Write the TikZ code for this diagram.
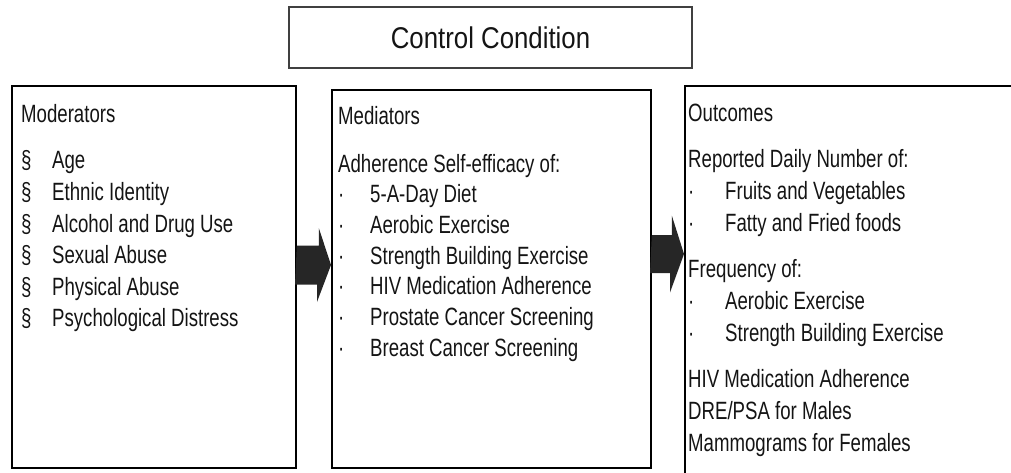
\documentclass[tikz,border=0pt]{standalone}
\usepackage{fontspec}
\setmainfont{Liberation Sans}[FakeStretch=0.745]
\newfontfamily\titlefont{Liberation Sans}[FakeStretch=0.86]
\usetikzlibrary{positioning, calc}
\definecolor{textblack}{RGB}{20,20,20}
\definecolor{arrowgray}{RGB}{38,38,38}
\newcommand{\secitem}[1]{\makebox[31pt][l]{\S}#1}
\newcommand{\dotitem}[2][32pt]{\makebox[#1][l]{\textperiodcentered}#2}

\begin{document}
\begin{tikzpicture}[
    x=1pt, y=-1pt,
    panel/.style={rectangle, draw=black, line width=1.8pt, inner sep=0pt,
                  anchor=north west},
    titlebox/.style={rectangle, draw=black!75, line width=1.2pt, inner sep=0pt,
                     text=textblack, font=\titlefont\fontsize{30pt}{36pt}\selectfont},
    listtext/.style={inner sep=0pt, anchor=north west, align=left, text=textblack,
                     font=\fontsize{25pt}{32pt}\selectfont},
    fatarrow/.style={fill=arrowgray}
]
    \clip (0,0) rectangle (1011,473);

    % Title box
    \node[titlebox, minimum width=403pt, minimum height=61pt] (ctrl) at (490.5,37.5) {Control Condition};

    % Panels
    \node[panel, minimum width=284pt, minimum height=382pt] (mod) at (11,85) {};
    \node[panel, minimum width=319pt, minimum height=378pt] (med) at (331,89) {};
    \node[panel, minimum width=340pt, minimum height=400pt] (out) at (684,85) {};

    % Panel texts
    \node[listtext, font=\fontsize{25pt}{31.6pt}\selectfont] (modtxt)
        at ($(mod.north west)+(10,19)$) {Moderators\\[15pt]
        \secitem{Age}\\
        \secitem{Ethnic Identity}\\
        \secitem{Alcohol and Drug Use}\\
        \secitem{Sexual Abuse}\\
        \secitem{Physical Abuse}\\
        \secitem{Psychological Distress}};
    \node[listtext, font=\fontsize{25pt}{30.7pt}\selectfont] (medtxt)
        at ($(med.north west)+(7,17)$) {Mediators\\[17pt]
        Adherence Self-efficacy of:\\
        \dotitem{5-A-Day Diet}\\
        \dotitem{Aerobic Exercise}\\
        \dotitem{Strength Building Exercise}\\
        \dotitem{HIV Medication Adherence}\\
        \dotitem{Prostate Cancer Screening}\\
        \dotitem{Breast Cancer Screening}};
    \node[listtext] (outtxt) at ($(out.north west)+(4,18.5)$) {Outcomes\\[14pt]
        Reported Daily Number of:\\
        \dotitem[37pt]{Fruits and Vegetables}\\
        \dotitem[37pt]{Fatty and Fried foods}\\[14pt]
        Frequency of:\\
        \dotitem[37pt]{Aerobic Exercise}\\
        \dotitem[37pt]{Strength Building Exercise}\\[14pt]
        HIV Medication Adherence\\
        DRE/PSA for Males\\
        Mammograms for Females};

    % Block arrows
    \coordinate (a1s) at (mod.east |- 0,265);
    \coordinate (a1e) at (med.west |- 0,265);
    \coordinate (a2s) at (med.east |- 0,254);
    \coordinate (a2e) at (out.west |- 0,254);
    \fill[fatarrow] (a1s) ++(0,-19.5) -- ++(22,0) -- ++(0,-17.5) -- (a1e)
        -- ++(-14,37) -- ++(0,-17.5) -- ++(-22,0) -- cycle;
    \fill[fatarrow] (a2s) ++(0,-19) -- ++(20,0) -- ++(0,-19.5) -- (a2e)
        -- ++(-14,38.5) -- ++(0,-19.5) -- ++(-20,0) -- cycle;
\end{tikzpicture}
\end{document}
